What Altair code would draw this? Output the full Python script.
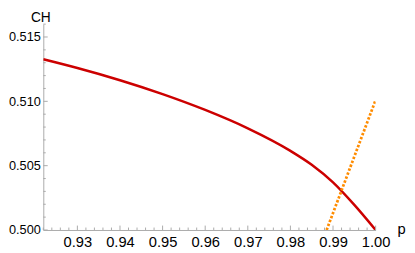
import altair as alt
import pandas as pd

# Red curve
p_red = [0.922, 0.930, 0.940, 0.950, 0.960, 0.970, 0.980, 0.985, 0.990, 0.995, 1.000]
ch_red = [0.51327, 0.51259, 0.51164, 0.51056, 0.50933, 0.50790, 0.50615, 0.50507,
          0.50370, 0.50195, 0.50000]

# Orange dotted line
p_orange = [0.9885, 1.000]
ch_orange = [0.5000, 0.5101]

# Tick positions
x_major = [0.93, 0.94, 0.95, 0.96, 0.97, 0.98, 0.99, 1.00]
x_minor = [0.922, 0.924, 0.926, 0.928,
           0.932, 0.934, 0.936, 0.938,
           0.942, 0.944, 0.946, 0.948,
           0.952, 0.954, 0.956, 0.958,
           0.962, 0.964, 0.966, 0.968,
           0.972, 0.974, 0.976, 0.978,
           0.982, 0.984, 0.986, 0.988,
           0.992, 0.994, 0.996, 0.998]
y_major = [0.500, 0.505, 0.510, 0.515]
y_minor = [0.501, 0.502, 0.503, 0.504,
           0.506, 0.507, 0.508, 0.509,
           0.511, 0.512, 0.513, 0.514,
           0.516]

W, H = 339, 210
FONT = "Liberation Sans"
GRAY = "#aaaaaa"

xs = alt.Scale(domain=[0.922, 1.0], nice=False, zero=False)
ys = alt.Scale(domain=[0.5, 0.516], nice=False, zero=False)

df_red = pd.DataFrame({"p": p_red, "ch": ch_red})
df_or = pd.DataFrame({"p": p_orange, "ch": ch_orange})
df_xmaj = pd.DataFrame({"p": x_major})
df_xmin = pd.DataFrame({"p": x_minor})
df_ymaj = pd.DataFrame({"ch": y_major})
df_ymin = pd.DataFrame({"ch": y_minor})

x_axis = alt.Axis(values=x_major, format=".2f", ticks=False, grid=False,
                  domainColor=GRAY, domainWidth=1,
                  labelFont=FONT, labelFontSize=15, labelColor="#000000",
                  labelPadding=5, labelFlush=False, labelOverlap=False,
                  title="p", titleFont=FONT, titleFontSize=15, titleFontWeight="normal",
                  titleColor="#000000", titleX=365, titleY=4, titleAlign="center",
                  titleBaseline="alphabetic", titleAngle=0)
y_axis = alt.Axis(values=y_major, format=".3f", ticks=False, grid=False,
                  domainColor=GRAY, domainWidth=1,
                  labelFont=FONT, labelFontSize=13, labelColor="#000000",
                  labelPadding=3, labelFlush=False, labelOverlap=False,
                  title="CH", titleFont=FONT, titleFontSize=14, titleFontWeight="normal",
                  titleColor="#000000", titleX=-3, titleY=-3, titleAlign="center",
                  titleBaseline="alphabetic", titleAngle=0)

red = alt.Chart(df_red).mark_line(color="#cc0000", strokeWidth=2.5, clip=True,
                                  interpolate="monotone").encode(
    x=alt.X("p:Q", scale=xs, axis=x_axis),
    y=alt.Y("ch:Q", scale=ys, axis=y_axis),
)

orange = alt.Chart(df_or).mark_line(color="#ff8c00", strokeWidth=2.8, clip=True,
                                    strokeDash=[2.5, 1.8], strokeCap="butt").encode(
    x=alt.X("p:Q", scale=xs),
    y=alt.Y("ch:Q", scale=ys),
)

xmaj = alt.Chart(df_xmaj).mark_rule(color=GRAY, strokeWidth=1).encode(
    x=alt.X("p:Q", scale=xs), y=alt.value(H), y2=alt.value(H - 4.5))
xmin = alt.Chart(df_xmin).mark_rule(color=GRAY, strokeWidth=1).encode(
    x=alt.X("p:Q", scale=xs), y=alt.value(H), y2=alt.value(H - 2.5))
ymaj = alt.Chart(df_ymaj).mark_rule(color=GRAY, strokeWidth=1).encode(
    y=alt.Y("ch:Q", scale=ys), x=alt.value(0), x2=alt.value(4.5))
ymin = alt.Chart(df_ymin).mark_rule(color=GRAY, strokeWidth=1).encode(
    y=alt.Y("ch:Q", scale=ys), x=alt.value(0), x2=alt.value(2.5))

chart = alt.layer(red, xmaj, xmin, ymaj, ymin, orange).properties(
    width=W, height=H,
    autosize=alt.AutoSizeParams(type="none"),
    padding={"left": 36, "top": 14, "right": 32, "bottom": 21},
    background="white",
).configure_view(stroke=None)

chart.save("out.html", embed_options={"renderer": "svg", "actions": False})
